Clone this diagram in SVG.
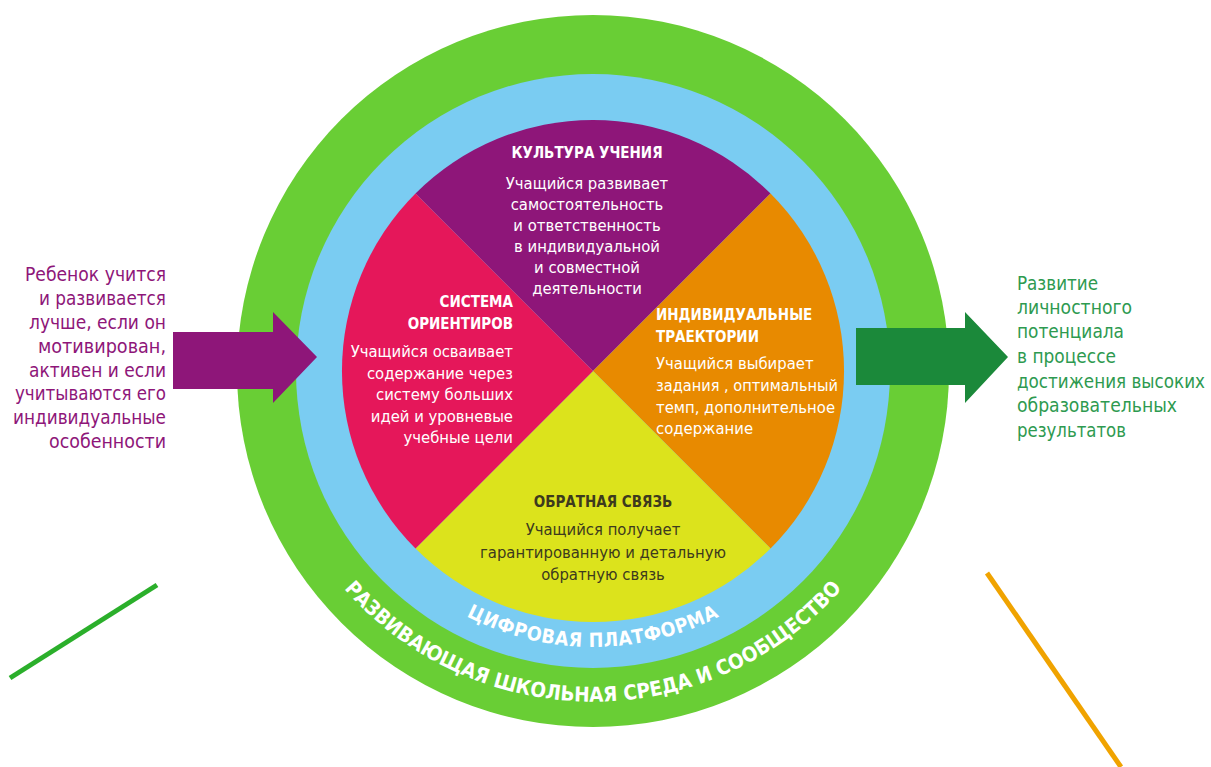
<svg xmlns="http://www.w3.org/2000/svg" width="1211" height="767" viewBox="0 0 1211 767">
<style>
  text { font-family: "DejaVu Sans Condensed", "DejaVu Sans", sans-serif; font-stretch: condensed; }
  .title { font-weight: bold; font-size: 15px; fill: #ffffff; }
  .body { font-size: 16.5px; fill: #ffffff; }
  .dark { fill: #3d3a1e; }
  .in { font-size: 20px; fill: #8E1679; text-anchor: end; }
  .out { font-size: 20px; fill: #2E9A50; }
  .ring { font-weight: bold; fill: #ffffff; }
  .mid { text-anchor: middle; }
  .end { text-anchor: end; }
</style>
<defs>
  <path id="arcInner" d="M354,509 A276,276 0 0 0 832,509"/>
  <path id="arcOuter" d="M282,484 A331,331 0 0 0 904,484"/>
</defs>
<rect width="1211" height="767" fill="#ffffff"/>

<g id="ring-environment">
  <circle cx="593" cy="371" r="356" fill="#69CE35"/>
  <text class="ring" font-size="20.5"><textPath href="#arcOuter" startOffset="50%" text-anchor="middle">РАЗВИВАЮЩАЯ ШКОЛЬНАЯ СРЕДА И СООБЩЕСТВО</textPath></text>
</g>
<g id="ring-platform">
  <circle cx="593" cy="371" r="297" fill="#7ACCF2"/>
  <text class="ring" font-size="19.5" letter-spacing="0.5"><textPath href="#arcInner" startOffset="50%" text-anchor="middle">ЦИФРОВАЯ ПЛАТФОРМА</textPath></text>
</g>

<g id="sector-culture">
  <path d="M593,371 L415.5,193.5 A251,251 0 0 1 770.5,193.5 Z" fill="#8E1679"/>
  <text class="title mid" x="587" y="158">КУЛЬТУРА УЧЕНИЯ</text>
  <text class="body mid" x="587" y="189">Учащийся развивает</text>
  <text class="body mid" x="587" y="210">самостоятельность</text>
  <text class="body mid" x="587" y="231">и ответственность</text>
  <text class="body mid" x="587" y="252">в индивидуальной</text>
  <text class="body mid" x="587" y="273">и совместной</text>
  <text class="body mid" x="587" y="294">деятельности</text>
</g>

<g id="sector-trajectory">
  <path d="M593,371 L770.5,193.5 A251,251 0 0 1 770.5,548.5 Z" fill="#E88A00"/>
  <text class="title" x="656" y="320">ИНДИВИДУАЛЬНЫЕ</text>
  <text class="title" x="656" y="342">ТРАЕКТОРИИ</text>
  <text class="body" x="656" y="369">Учащийся выбирает</text>
  <text class="body" x="656" y="391" textLength="182" lengthAdjust="spacingAndGlyphs">задания , оптимальный</text>
  <text class="body" x="656" y="413">темп, дополнительное</text>
  <text class="body" x="656" y="434">содержание</text>
</g>

<g id="sector-feedback">
  <path d="M593,371 L770.5,548.5 A251,251 0 0 1 415.5,548.5 Z" fill="#DCE31C"/>
  <text class="title dark mid" x="603" y="507">ОБРАТНАЯ СВЯЗЬ</text>
  <text class="body dark mid" x="603" y="535">Учащийся получает</text>
  <text class="body dark mid" x="603" y="558">гарантированную и детальную</text>
  <text class="body dark mid" x="603" y="580">обратную связь</text>
</g>

<g id="sector-system">
  <path d="M593,371 L415.5,548.5 A251,251 0 0 1 415.5,193.5 Z" fill="#E5175A"/>
  <text class="title end" x="513" y="307">СИСТЕМА</text>
  <text class="title end" x="513" y="329">ОРИЕНТИРОВ</text>
  <text class="body end" x="513" y="357">Учащийся осваивает</text>
  <text class="body end" x="513" y="379">содержание через</text>
  <text class="body end" x="513" y="400">систему больших</text>
  <text class="body end" x="513" y="422">идей и уровневые</text>
  <text class="body end" x="513" y="443">учебные цели</text>
</g>

<g id="input-text">
  <text class="in" x="166" y="281" textLength="141" lengthAdjust="spacingAndGlyphs">Ребенок учится</text>
  <text class="in" x="166" y="305" textLength="127" lengthAdjust="spacingAndGlyphs">и развивается</text>
  <text class="in" x="166" y="329" textLength="137" lengthAdjust="spacingAndGlyphs">лучше, если он</text>
  <text class="in" x="166" y="353" textLength="128" lengthAdjust="spacingAndGlyphs">мотивирован,</text>
  <text class="in" x="166" y="377" textLength="137" lengthAdjust="spacingAndGlyphs">активен и если</text>
  <text class="in" x="166" y="400" textLength="151" lengthAdjust="spacingAndGlyphs">учитываются его</text>
  <text class="in" x="166" y="424" textLength="153" lengthAdjust="spacingAndGlyphs">индивидуальные</text>
  <text class="in" x="166" y="448" textLength="117" lengthAdjust="spacingAndGlyphs">особенности</text>
</g>

<g id="output-text">
  <text class="out" x="1017" y="290" textLength="81" lengthAdjust="spacingAndGlyphs">Развитие</text>
  <text class="out" x="1017" y="314" textLength="115" lengthAdjust="spacingAndGlyphs">личностного</text>
  <text class="out" x="1017" y="338" textLength="107" lengthAdjust="spacingAndGlyphs">потенциала</text>
  <text class="out" x="1017" y="363" textLength="99" lengthAdjust="spacingAndGlyphs">в процессе</text>
  <text class="out" x="1017" y="388" textLength="188" lengthAdjust="spacingAndGlyphs">достижения высоких</text>
  <text class="out" x="1017" y="412" textLength="160" lengthAdjust="spacingAndGlyphs">образовательных</text>
  <text class="out" x="1017" y="437" textLength="109" lengthAdjust="spacingAndGlyphs">результатов</text>
</g>

<g id="connectors">
  <path id="arrow-in" d="M173,332 L273,332 L273,312 L317,357 L273,403 L273,389 L173,389 Z" fill="#8E1679"/>
  <path id="arrow-out" d="M856,328 L965,328 L965,312 L1008,357 L965,403 L965,385 L856,385 Z" fill="#1B893A"/>
  <line x1="10" y1="678" x2="157" y2="585" stroke="#2BAF2B" stroke-width="5"/>
  <line x1="987" y1="573" x2="1121" y2="767" stroke="#F0A300" stroke-width="5"/>
</g>
</svg>
